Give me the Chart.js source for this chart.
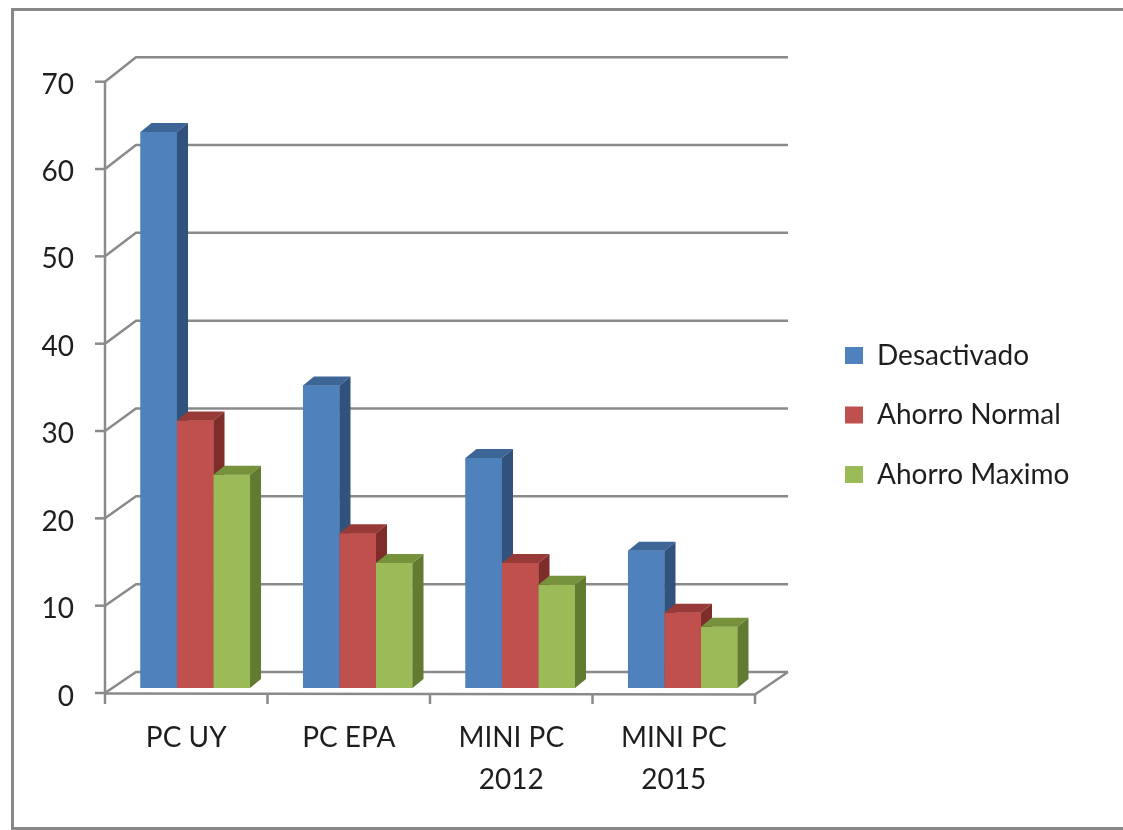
<!DOCTYPE html>
<html>
<head>
<meta charset="utf-8">
<script src="https://cdn.jsdelivr.net/npm/chart.js@4/dist/chart.umd.min.js"></script>
<style>
  html, body { margin: 0; padding: 0; background: #ffffff; overflow: hidden; }
  #frame { position: absolute; left: 11px; top: 8px; width: 1200px; height: 816px; border: 3px solid #878787; }
  #c { position: absolute; left: 0; top: 0; }
</style>
</head>
<body>
<div id="frame"></div>
<canvas id="c" width="1123" height="830"></canvas>
<script>
// Consumo por equipo y modo de ahorro
const categories = [['PC UY'], ['PC EPA'], ['MINI PC', '2012'], ['MINI PC', '2015']];
const desactivado = [63.6, 34.6, 26.3, 15.7];
const ahorroNormal = [30.6, 17.7, 14.3, 8.6];
const ahorroMaximo = [24.4, 14.3, 11.8, 7.0];
const seriesNames = ['Desactivado', 'Ahorro Normal', 'Ahorro Maximo'];
const yTicks = [0, 10, 20, 30, 40, 50, 60, 70];

const FONT = 'Lato';
const FONT_SIZE = 28;
const TEXT = '#1e1e1e';
const GRID = '#8a8a8a';

// front, top and side shades of each column
const shades = [
  { front: '#4f81bd', top: '#3d6596', side: '#30527c' },
  { front: '#c0504d', top: '#983a37', side: '#7f2d2b' },
  { front: '#9bbb59', top: '#77923c', side: '#637a31' }
];

// 3D geometry (pixels)
const BAR_DX = 11, BAR_DY = -9;        // column depth
const FRONT_DX = -9, FRONT_DY = 5;     // front edge of the floor relative to the column plane
const BACK_DX = 22, BACK_DY = -16;     // back wall relative to the column plane

const PLOT_LEFT = 114, PLOT_RIGHT = 764, PLOT_TOP = 76, PLOT_BOTTOM = 688;
const W = 1123, H = 830;

// legend geometry
const LEG_BOX_X = 845, LEG_PAD = 31.5, LEG_BOX_W = 18, LEG_BOX_H = 17;
const LEG_FIRST_CENTER = 355.5;
const mctx = document.createElement('canvas').getContext('2d');
mctx.font = FONT_SIZE + 'px ' + FONT;
const maxTextW = Math.max(...seriesNames.map(n => mctx.measureText(n).width));
const legendWidth = LEG_PAD + LEG_BOX_W + FONT_SIZE / 2 + maxTextW + 10;
const legendLeft = LEG_BOX_X - LEG_PAD;
const rightPad = Math.max(0, W - legendLeft - legendWidth);
const legendLead = LEG_FIRST_CENTER - FONT_SIZE / 2 - PLOT_TOP - LEG_PAD;

function frontY(scale, v) { return scale.getPixelForValue(v) + FRONT_DY + 0.01 * v; }
function backY(scale, v) { return scale.getPixelForValue(v) + BACK_DY - 0.04 * v; }

const frame3d = {
  id: 'frame3d',
  beforeDatasetsDraw(chart) {
    const { ctx, chartArea: a } = chart;
    const ys = chart.scales.y;
    const xFront0 = a.left + FRONT_DX;
    const xFront1 = a.right + FRONT_DX;
    const xBack0 = a.left + BACK_DX;
    const xBack1 = a.right + BACK_DX + 2;
    ctx.save();
    ctx.strokeStyle = GRID;
    ctx.lineWidth = 2.5;
    ctx.lineCap = 'butt';
    yTicks.forEach(v => {
      const fy = frontY(ys, v), by = backY(ys, v);
      ctx.beginPath();
      ctx.moveTo(xFront0, fy);
      ctx.lineTo(xBack0, by);
      ctx.lineTo(xBack1, by);
      ctx.stroke();
      // tick mark on the front axis
      ctx.beginPath();
      ctx.moveTo(xFront0 - 10, fy);
      ctx.lineTo(xFront0, fy);
      ctx.stroke();
    });
    const f0 = frontY(ys, 0);
    const fTop = frontY(ys, yTicks[yTicks.length - 1]);
    // vertical axis
    ctx.beginPath();
    ctx.moveTo(xFront0, fTop);
    ctx.lineTo(xFront0, f0 + 11);
    ctx.stroke();
    // floor front edge and right edge
    ctx.beginPath();
    ctx.moveTo(xFront0, f0 + 0.5);
    ctx.lineTo(xFront1, f0 + 1.5);
    ctx.lineTo(xBack1, backY(ys, 0));
    ctx.stroke();
    // category tick marks
    const n = categories.length;
    const step = (a.right - a.left) / n;
    for (let i = 1; i <= n; i++) {
      const x = xFront0 + i * step;
      ctx.beginPath();
      ctx.moveTo(x, f0 + 1);
      ctx.lineTo(x, f0 + 11);
      ctx.stroke();
    }
    ctx.restore();
  },
  afterDatasetsDraw(chart) {
    const { ctx } = chart;
    const metas = chart.data.datasets.map((d, i) => chart.getDatasetMeta(i));
    ctx.save();
    for (let i = 0; i < categories.length; i++) {
      metas.forEach((meta, d) => {
        const el = meta.data[i];
        const s = shades[d];
        const l = el.x - el.width / 2, r = el.x + el.width / 2;
        const t = el.y, b = el.base;
        ctx.fillStyle = s.front;
        ctx.fillRect(l, t, r - l, b - t);
        ctx.fillStyle = s.top;
        ctx.beginPath();
        ctx.moveTo(l, t);
        ctx.lineTo(l + BAR_DX, t + BAR_DY);
        ctx.lineTo(r + BAR_DX, t + BAR_DY);
        ctx.lineTo(r, t);
        ctx.closePath();
        ctx.fill();
        ctx.fillStyle = s.side;
        ctx.beginPath();
        ctx.moveTo(r, t);
        ctx.lineTo(r + BAR_DX, t + BAR_DY);
        ctx.lineTo(r + BAR_DX, b + BAR_DY);
        ctx.lineTo(r, b);
        ctx.closePath();
        ctx.fill();
      });
    }
    ctx.restore();
  }
};

const seriesValues = [desactivado, ahorroNormal, ahorroMaximo];

new Chart(document.getElementById('c'), {
  type: 'bar',
  data: {
    labels: categories,
    datasets: seriesNames.map((name, i) => ({
      label: name,
      data: seriesValues[i],
      backgroundColor: shades[i].front,
      borderWidth: 0,
      categoryPercentage: 0.674,
      barPercentage: 1.0
    }))
  },
  options: {
    responsive: false,
    animation: false,
    devicePixelRatio: 1,
    layout: { padding: { left: 0, top: PLOT_TOP, right: rightPad, bottom: 0 } },
    plugins: {
      tooltip: { enabled: false },
      legend: {
        position: 'right',
        align: 'start',
        maxWidth: Math.ceil(legendWidth) + 2,
        title: {
          display: true,
          text: '',
          font: { size: 1, lineHeight: 1 },
          padding: { top: legendLead - 1, bottom: 0 }
        },
        labels: {
          boxWidth: LEG_BOX_W,
          boxHeight: LEG_BOX_H,
          padding: LEG_PAD,
          color: TEXT,
          font: { family: FONT, size: FONT_SIZE }
        }
      }
    },
    scales: {
      x: {
        grid: { display: false, drawTicks: false },
        border: { display: false },
        ticks: {
          color: TEXT,
          font: { family: FONT, size: FONT_SIZE, lineHeight: 1.5 },
          padding: 29,
          labelOffset: FRONT_DX,
          maxRotation: 0,
          autoSkip: false
        },
        afterFit: s => { s.height = H - PLOT_BOTTOM; }
      },
      y: {
        min: 0,
        max: 70,
        grid: { display: false, drawTicks: false },
        border: { display: false },
        ticks: {
          stepSize: 10,
          color: TEXT,
          font: { family: FONT, size: FONT_SIZE },
          padding: 40,
          labelOffset: 8.5
        },
        afterFit: s => { s.width = PLOT_LEFT; }
      },
      gap: {
        type: 'linear',
        position: 'right',
        grid: { display: false, drawTicks: false },
        border: { display: false },
        ticks: { display: false },
        afterFit: s => { s.width = legendLeft - PLOT_RIGHT; }
      }
    }
  },
  plugins: [frame3d]
});
</script>
</body>
</html>
